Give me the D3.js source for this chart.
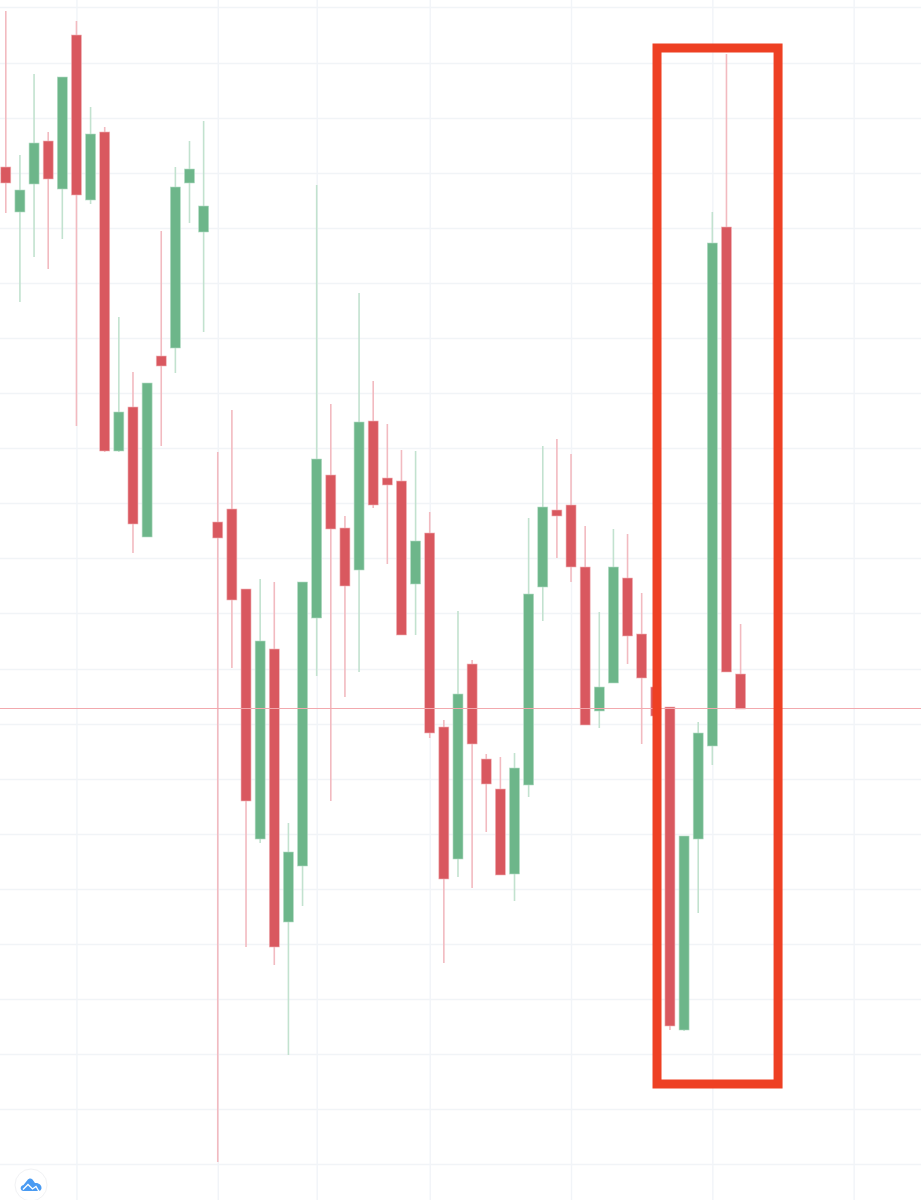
<!DOCTYPE html>
<html>
<head>
<meta charset="utf-8">
<script src="https://cdn.jsdelivr.net/npm/d3@7"></script>
<style>
  html, body { margin: 0; padding: 0; background: #fff; overflow: hidden; }
  svg { display: block; }
</style>
</head>
<body>
<div id="chart"></div>
<script>
// candle values (the chart shows no price labels)
var open  = [1033,988,1016,1059,1011,1165,1000,1068,749,793,663,844,852,1017,968,678,691,611,361,551,278,334,582,725,672,630,779,722,719,616,667,473,341,536,441,411,326,415,613,690,695,633,489,517,622,566,513,493,170,361,454,973,526];
var close = [1017,1010,1057,1021,1123,1005,1066,749,788,676,817,834,1013,1031,994,662,600,399,559,253,348,618,741,671,614,778,695,715,565,659,467,321,506,456,416,325,432,606,693,684,633,475,513,633,564,522,484,174,364,467,957,528,491];
var high  = [1189,1045,1126,1068,1123,1179,1093,1073,883,828,817,969,1033,1059,1079,748,790,611,621,618,377,618,1015,796,684,907,819,776,750,749,688,480,589,540,446,443,447,682,754,761,746,674,588,671,666,607,513,493,364,478,988,1146,576];
var low   = [987,898,943,931,961,774,996,748,748,647,663,754,827,977,868,38,532,253,357,235,145,294,524,399,503,528,692,636,565,565,462,237,323,312,368,325,299,403,579,642,618,475,472,517,536,456,484,170,169,287,435,528,491];

// grid positions on the price and candle-index axes
var priceTicks = [36,91,146,201,256,311,366,421,476,531,587,642,697,752,807,862,917,972,1027,1082,1137,1193];
var indexTicks = [5,15,22,30,40,50,60];
var lastPrice = 491.5;

// highlighted candles in the red box: first index, last index, price range
var boxFrom = 46, boxTo = 54, boxHigh = 1152, boxLow = 116;

var width = 921, height = 1200;
var bodyWidth = 10;

var up = "#6db68a", down = "#d9585f";
var upWick = "#c2e2cf", downWick = "#f2bac0";
var upEdge = "#b5dcc5", downEdge = "#f0b4b9";

var x = d3.scaleLinear().domain([0, 52]).range([5.8, 740.6]);
var y = d3.scaleLinear().domain([0, 1200]).range([1200, 0]);

var svg = d3.select("#chart").append("svg")
  .attr("width", width)
  .attr("height", height);

// grid
svg.append("g")
  .attr("class", "grid-y")
  .call(d3.axisLeft(y).tickValues(priceTicks).tickSize(-width).tickFormat(""))
  .call(g => g.select(".domain").remove())
  .call(g => g.selectAll("line").attr("stroke", "#f1f4f7").attr("stroke-width", 1.4));

svg.append("g")
  .attr("class", "grid-x")
  .attr("transform", "translate(0," + height + ")")
  .call(d3.axisBottom(x).tickValues(indexTicks).tickSize(-height).tickFormat(""))
  .call(g => g.select(".domain").remove())
  .call(g => g.selectAll("line").attr("stroke", "#f1f4f8").attr("stroke-width", 1.4));

// candles
var candles = svg.append("g").selectAll("g")
  .data(d3.range(open.length))
  .join("g");

candles.append("line")
  .attr("x1", i => x(i))
  .attr("x2", i => x(i))
  .attr("y1", i => y(high[i]))
  .attr("y2", i => y(low[i]))
  .attr("stroke", i => close[i] >= open[i] ? upWick : downWick)
  .attr("stroke-width", 1.6);

candles.append("rect")
  .attr("x", i => x(i) - bodyWidth / 2)
  .attr("width", bodyWidth)
  .attr("y", i => y(Math.max(open[i], close[i])))
  .attr("height", i => Math.abs(y(open[i]) - y(close[i])))
  .attr("fill", i => close[i] >= open[i] ? up : down)
  .attr("stroke", i => close[i] >= open[i] ? upEdge : downEdge)
  .attr("stroke-width", 0.6);

// last price line
svg.append("line")
  .attr("x1", 0)
  .attr("x2", width)
  .attr("y1", y(lastPrice))
  .attr("y2", y(lastPrice))
  .attr("stroke", "#f2a9ae")
  .attr("stroke-width", 1);

// red box round the last candles
svg.append("rect")
  .attr("x", x(boxFrom) + 1.2)
  .attr("y", y(boxHigh))
  .attr("width", x(boxTo) - x(boxFrom) + 8)
  .attr("height", y(boxLow) - y(boxHigh))
  .attr("fill", "none")
  .attr("stroke", "#ee4023")
  .attr("stroke-width", 9);

// logo badge, bottom left
var logo = svg.append("g").attr("transform", "translate(31,1185)");
logo.append("circle")
  .attr("r", 16)
  .attr("fill", "#fff")
  .attr("stroke", "#f1f2f4")
  .attr("stroke-width", 1);
logo.append("path")
  .attr("d", "M-7.5,6 C-11,6 -11.5,1 -7.5,0 L-3.5,-5 C-2,-7 0,-7 1.5,-5.5 L4,-2 C7.5,-2.5 11,0 10.5,3.5 C10.2,5.2 8.8,6 7.5,6 Z")
  .attr("fill", "#4a9bf2");
logo.append("path")
  .attr("d", "M-8,4.5 L-3,-0.5 L1.5,4 L5,1.5 L8,6.5")
  .attr("fill", "none")
  .attr("stroke", "#fff")
  .attr("stroke-width", 1.3);
</script>
</body>
</html>
